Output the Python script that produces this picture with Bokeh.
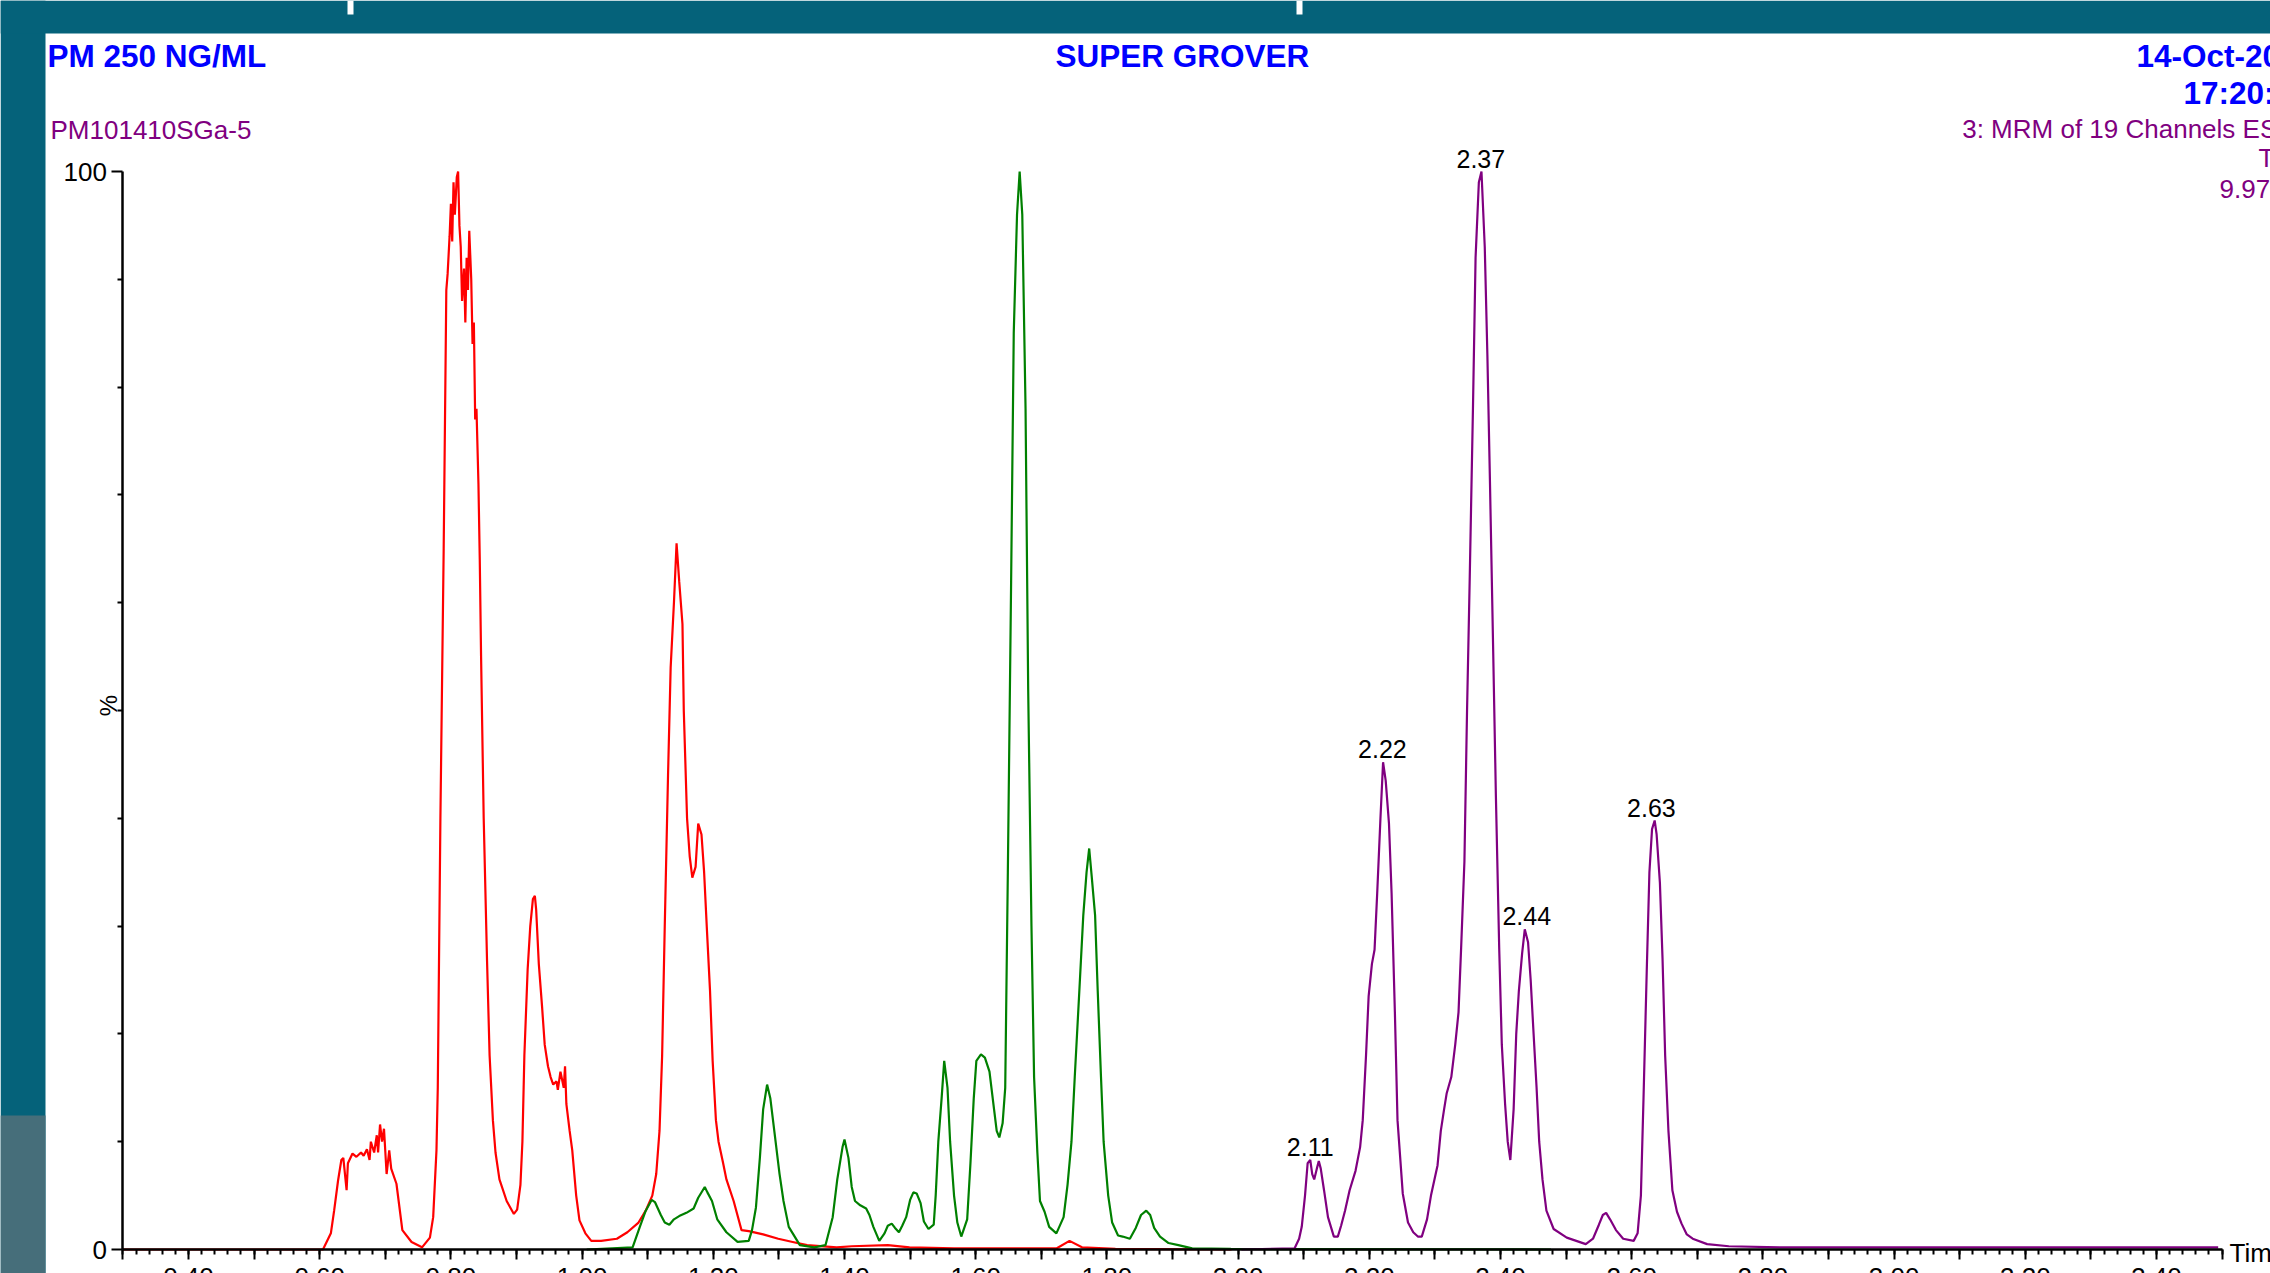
import numpy as np
from bokeh.plotting import figure
from bokeh.models import Range1d, FixedTicker, LinearAxis, BoxAnnotation, PrintfTickFormatter
from bokeh.core.properties import value
from bokeh.embed import file_html
from bokeh.resources import INLINE

# ---------------- data (time in min, intensity in %) ----------------
red_points = [
    (0.300, 0.0), (0.605, 0.0), (0.617, 1.5), (0.622, 3.6), (0.628, 6.4), (0.633, 8.3),
    (0.636, 8.5), (0.641, 5.5), (0.643, 8.0), (0.650, 8.9), (0.656, 8.6), (0.663, 9.0),
    (0.667, 8.7), (0.672, 9.3), (0.676, 8.3), (0.678, 10.0), (0.683, 9.0), (0.687, 10.6),
    (0.689, 9.0), (0.692, 11.6), (0.695, 10.0), (0.698, 11.2), (0.702, 7.0), (0.706, 9.2),
    (0.709, 7.5), (0.717, 6.1), (0.726, 1.8), (0.740, 0.7), (0.756, 0.2), (0.768, 1.1),
    (0.773, 3.0), (0.778, 9.2), (0.780, 15.0), (0.784, 40.0), (0.789, 65.0), (0.793, 89.0),
    (0.795, 90.5), (0.798, 94.0), (0.800, 97.0), (0.802, 93.5), (0.804, 99.0), (0.806, 96.0),
    (0.809, 99.5), (0.811, 100.0), (0.813, 95.0), (0.815, 93.0), (0.817, 88.0), (0.820, 91.0),
    (0.822, 86.0), (0.824, 92.0), (0.826, 89.0), (0.828, 94.5), (0.831, 90.0), (0.833, 84.0),
    (0.835, 86.0), (0.837, 77.0), (0.839, 78.0), (0.842, 71.0), (0.844, 64.0), (0.846, 55.0),
    (0.850, 40.0), (0.855, 27.0), (0.859, 18.0), (0.864, 12.0), (0.868, 9.0), (0.874, 6.5),
    (0.885, 4.5), (0.896, 3.3), (0.901, 3.7), (0.906, 6.0), (0.909, 10.0), (0.912, 18.0),
    (0.917, 26.0), (0.921, 30.0), (0.925, 32.5), (0.928, 32.8), (0.930, 31.5), (0.934, 26.5),
    (0.939, 22.5), (0.943, 19.0), (0.948, 17.0), (0.952, 16.0), (0.956, 15.3), (0.961, 15.6),
    (0.963, 14.8), (0.967, 16.5), (0.972, 15.0), (0.974, 17.0), (0.976, 13.5), (0.981, 11.0),
    (0.985, 9.2), (0.991, 5.0), (0.996, 2.7), (1.005, 1.5), (1.014, 0.8), (1.029, 0.8),
    (1.053, 1.0), (1.069, 1.6), (1.086, 2.5), (1.097, 3.6), (1.107, 5.0), (1.113, 7.0),
    (1.118, 11.0), (1.122, 18.0), (1.126, 30.0), (1.131, 44.0), (1.135, 54.0), (1.140, 60.0),
    (1.144, 65.5), (1.148, 62.0), (1.153, 58.0), (1.155, 50.0), (1.160, 40.0), (1.164, 36.5),
    (1.168, 34.5), (1.173, 35.5), (1.177, 39.5), (1.182, 38.5), (1.186, 35.0), (1.190, 30.0),
    (1.195, 24.0), (1.199, 17.5), (1.204, 12.0), (1.208, 10.0), (1.215, 8.0), (1.220, 6.5),
    (1.231, 4.5), (1.243, 1.8), (1.254, 1.7), (1.276, 1.4), (1.299, 1.0), (1.321, 0.7),
    (1.343, 0.4), (1.388, 0.2), (1.411, 0.3), (1.466, 0.4), (1.499, 0.2), (1.567, 0.1),
    (1.723, 0.1), (1.743, 0.8), (1.762, 0.2), (1.813, 0.05), (1.990, 0.0),
]

green_points = [
    (1.007, 0.0), (1.077, 0.2), (1.088, 2.1), (1.097, 3.6), (1.106, 4.6), (1.111, 4.4),
    (1.120, 3.2), (1.126, 2.5), (1.133, 2.3), (1.140, 2.8), (1.148, 3.1), (1.159, 3.4),
    (1.170, 3.8), (1.177, 4.8), (1.187, 5.8), (1.191, 5.3), (1.198, 4.5), (1.206, 2.8),
    (1.220, 1.6), (1.237, 0.7), (1.254, 0.8), (1.259, 1.8), (1.265, 3.9), (1.271, 8.5),
    (1.276, 13.0), (1.282, 15.3), (1.287, 14.0), (1.294, 10.5), (1.301, 7.0), (1.307, 4.5),
    (1.315, 2.1), (1.332, 0.4), (1.354, 0.2), (1.371, 0.4), (1.382, 3.0), (1.389, 6.5),
    (1.397, 9.5), (1.400, 10.2), (1.406, 8.5), (1.411, 5.8), (1.416, 4.5), (1.424, 4.1),
    (1.433, 3.8), (1.438, 3.2), (1.444, 2.1), (1.453, 0.8), (1.461, 1.5), (1.466, 2.2),
    (1.472, 2.4), (1.477, 2.0), (1.483, 1.6), (1.488, 2.2), (1.494, 3.0), (1.500, 4.6),
    (1.505, 5.3), (1.510, 5.2), (1.516, 4.3), (1.521, 2.6), (1.528, 1.9), (1.536, 2.3),
    (1.539, 5.0), (1.543, 10.0), (1.548, 14.0), (1.552, 17.5), (1.557, 15.0), (1.561, 10.0),
    (1.567, 5.0), (1.572, 2.5), (1.578, 1.2), (1.587, 2.8), (1.592, 8.0), (1.597, 14.0),
    (1.601, 17.5), (1.608, 18.1), (1.614, 17.8), (1.621, 16.5), (1.628, 13.0), (1.632, 11.0),
    (1.636, 10.4), (1.641, 11.7), (1.645, 15.0), (1.649, 35.0), (1.654, 62.0), (1.658, 85.0),
    (1.663, 96.0), (1.667, 100.0), (1.671, 96.0), (1.676, 78.0), (1.680, 52.0), (1.685, 30.0),
    (1.689, 16.0), (1.694, 9.0), (1.698, 4.5), (1.705, 3.5), (1.712, 2.1), (1.723, 1.5),
    (1.734, 3.0), (1.740, 6.0), (1.746, 10.0), (1.751, 16.0), (1.758, 24.0), (1.764, 31.0),
    (1.769, 35.0), (1.773, 37.2), (1.777, 34.5), (1.782, 31.0), (1.786, 24.0), (1.791, 16.0),
    (1.795, 10.0), (1.802, 5.0), (1.808, 2.5), (1.817, 1.3), (1.824, 1.2), (1.835, 1.0),
    (1.844, 2.0), (1.852, 3.2), (1.860, 3.6), (1.866, 3.2), (1.872, 2.0), (1.881, 1.2),
    (1.894, 0.6), (1.909, 0.4), (1.930, 0.1), (1.989, 0.05), (2.477, 0.0),
]

purple_points = [
    (2.005, 0.0), (2.086, 0.1), (2.093, 1.0), (2.097, 2.1), (2.102, 5.0), (2.106, 8.0),
    (2.110, 8.3), (2.113, 7.0), (2.116, 6.5), (2.120, 7.5), (2.123, 8.2), (2.126, 7.5),
    (2.131, 5.5), (2.137, 3.0), (2.146, 1.2), (2.152, 1.2), (2.157, 2.2), (2.163, 3.6),
    (2.170, 5.5), (2.179, 7.3), (2.186, 9.5), (2.190, 12.0), (2.195, 18.0), (2.199, 23.5),
    (2.204, 26.5), (2.208, 27.8), (2.212, 33.0), (2.217, 40.0), (2.221, 45.2), (2.225, 43.5),
    (2.230, 39.5), (2.234, 33.0), (2.239, 22.0), (2.243, 12.0), (2.251, 5.2), (2.259, 2.5),
    (2.267, 1.6), (2.274, 1.2), (2.280, 1.2), (2.288, 2.8), (2.294, 5.0), (2.304, 7.8),
    (2.309, 11.0), (2.314, 13.0), (2.318, 14.5), (2.325, 16.0), (2.331, 19.0), (2.336, 22.0),
    (2.340, 28.0), (2.345, 36.0), (2.349, 50.0), (2.353, 62.0), (2.358, 78.0), (2.362, 92.0),
    (2.367, 99.0), (2.371, 100.0), (2.376, 93.0), (2.380, 83.0), (2.384, 71.0), (2.389, 55.0),
    (2.393, 42.0), (2.398, 28.0), (2.402, 19.0), (2.407, 13.5), (2.411, 10.0), (2.415, 8.3),
    (2.420, 13.0), (2.424, 20.0), (2.428, 24.0), (2.433, 27.5), (2.437, 29.7), (2.442, 28.5),
    (2.446, 25.0), (2.450, 20.5), (2.455, 15.0), (2.459, 10.0), (2.464, 6.5), (2.470, 3.6),
    (2.481, 1.9), (2.501, 1.1), (2.530, 0.5), (2.541, 1.0), (2.550, 2.3), (2.556, 3.2),
    (2.561, 3.4), (2.567, 2.8), (2.576, 1.8), (2.587, 1.0), (2.603, 0.8), (2.609, 1.5),
    (2.614, 5.0), (2.618, 14.0), (2.623, 26.0), (2.627, 35.0), (2.631, 39.0), (2.635, 39.8),
    (2.638, 38.5), (2.643, 34.0), (2.647, 27.0), (2.651, 18.0), (2.656, 11.0), (2.662, 5.5),
    (2.669, 3.5), (2.676, 2.4), (2.684, 1.4), (2.693, 1.0), (2.715, 0.5), (2.748, 0.3),
    (2.828, 0.2), (3.494, 0.2),
]

red_time = [a for a, b in red_points]
red_pct = [b for a, b in red_points]
green_time = [a for a, b in green_points]
green_pct = [b for a, b in green_points]
purple_time = [a for a, b in purple_points]
purple_pct = [b for a, b in purple_points]

peak_labels = ["2.11", "2.22", "2.37", "2.44", "2.63"]
peak_heights = [8.3, 45.2, 100.0, 29.7, 39.8]

x_major_ticks = [0.3, 0.4, 0.5, 0.6, 0.7, 0.8, 0.9, 1.0, 1.1, 1.2, 1.3, 1.4, 1.5, 1.6, 1.7,
                 1.8, 1.9, 2.0, 2.1, 2.2, 2.3, 2.4, 2.5, 2.6, 2.7, 2.8, 2.9, 3.0, 3.1, 3.2,
                 3.3, 3.4, 3.5]
x_label_values = [0.4, 0.6, 0.8, 1.0, 1.2, 1.4, 1.6, 1.8, 2.0, 2.2, 2.4, 2.6, 2.8, 3.0, 3.2, 3.4]
x_tick_labels = ["0.40", "0.60", "0.80", "1.00", "1.20", "1.40", "1.60", "1.80", "2.00",
                 "2.20", "2.40", "2.60", "2.80", "3.00", "3.20", "3.40"]
y_major_ticks = [0, 100]
y_minor_ticks = [10, 20, 30, 40, 50, 60, 70, 80, 90]

header_left = "PM 250 NG/ML"
header_center = "SUPER GROVER"
header_date = "14-Oct-20"
header_time = "17:20:"
sample_name = "PM101410SGa-5"
channel_text = "3: MRM of 19 Channels ES"
channel_line2 = "T"
channel_line3 = "9.97"

# ---------------- layout helpers (slide pixel <-> data) ----------------
W, H = 2270, 1273
X_REF_PX, X_REF_T, PX_PER_MIN = 188.0, 0.40, 656.0
Y_REF_PX, PX_PER_PCT = 1249.0, 10.78


def tx(px):
    return X_REF_T + (px - X_REF_PX) / PX_PER_MIN


def vy(py):
    return (Y_REF_PX - py) / PX_PER_PCT


TEAL = "#05627A"
GREY_TEAL = "#466E7A"
BLUE = "#0000FF"
PURPLE = "#800080"
FONT = value("Liberation Sans")

p = figure(width=W, height=H, output_backend="svg", toolbar_location=None,
           x_range=Range1d(tx(0), tx(W)),
           y_range=Range1d(vy(H), vy(0)),
           x_axis_location=None, y_axis_location=None,
           min_border=0, min_border_left=0, min_border_right=0,
           min_border_top=0, min_border_bottom=0)
p.outline_line_color = None
p.background_fill_color = "white"
p.border_fill_color = "white"
p.grid.visible = False

# slide frame decoration
p.add_layout(BoxAnnotation(right=tx(45), fill_color=TEAL, fill_alpha=1.0, line_color=None))
p.add_layout(BoxAnnotation(bottom=vy(33), fill_color=TEAL, fill_alpha=1.0, line_color=None))
p.add_layout(BoxAnnotation(right=tx(45), top=vy(1115), fill_color=GREY_TEAL, fill_alpha=1.0,
                           line_color=None))
p.add_layout(BoxAnnotation(left=tx(347), right=tx(353), bottom=vy(14), fill_color="white",
                           fill_alpha=1.0, line_color=None))
p.add_layout(BoxAnnotation(left=tx(1296), right=tx(1302), bottom=vy(14), fill_color="white",
                           fill_alpha=1.0, line_color=None))

# traces
p.line(red_time, red_pct, line_color="#FF0000", line_width=2.2)
p.line(green_time, green_pct, line_color="#008000", line_width=2.2)
p.line(purple_time, purple_pct, line_color=PURPLE, line_width=2.2)

# axes
overrides = {t: "" for t in x_major_ticks}
overrides.update(dict(zip(x_label_values, x_tick_labels)))
xaxis = LinearAxis(fixed_location=0.0, bounds=(0.30, 3.50),
                   ticker=FixedTicker(ticks=x_major_ticks,
                                      minor_ticks=[round(0.3 + 0.02 * i, 2) for i in range(161)]),
                   formatter=PrintfTickFormatter(format="%.2f"),
                   major_label_overrides=overrides)
yaxis = LinearAxis(fixed_location=0.30, bounds=(0, 100),
                   ticker=FixedTicker(ticks=y_major_ticks, minor_ticks=y_minor_ticks))
for ax, mout in ((xaxis, 10), (yaxis, 11)):
    ax.axis_line_color = "black"
    ax.axis_line_width = 2.5
    ax.major_tick_line_color = "black"
    ax.major_tick_line_width = 2
    ax.minor_tick_line_color = "black"
    ax.minor_tick_line_width = 2
    ax.major_tick_in = 0
    ax.minor_tick_in = 0
    ax.major_tick_out = mout
    ax.minor_tick_out = 5
    ax.major_label_text_font = "Liberation Sans"
    ax.major_label_text_font_size = "26px"
    ax.major_label_text_color = "black"
xaxis.major_label_standoff = 8
yaxis.major_label_standoff = 5
p.add_layout(xaxis, "below")
p.add_layout(yaxis, "left")

# axis titles
p.text(x=[tx(108)], y=[vy(705)], text=["%"], angle=np.pi / 2, text_font=FONT,
       text_font_size=value("24px"), text_color="black", text_align="center",
       text_baseline="middle")
p.text(x=[tx(2229)], y=[vy(1252)], text=["Time"], text_font=FONT,
       text_font_size=value("26px"), text_color="black", text_align="left",
       text_baseline="alphabetic")

# peak labels
p.text(x=[float(s) for s in peak_labels], y=[h + 1.2 for h in peak_heights], text=peak_labels,
       text_font=FONT, text_font_size=value("25px"), text_color="black",
       text_align="center", text_baseline="alphabetic")

# header texts
p.text(x=[tx(47), tx(1055), tx(2136)], y=[vy(55.5), vy(55.5), vy(55.5)],
       text=[header_left, header_center, header_date], text_font=FONT,
       text_font_size=value("31.5px"), text_font_style="bold", text_color=BLUE,
       text_align="left", text_baseline="alphabetic")
p.text(x=[tx(2183)], y=[vy(92)], text=[header_time], text_font=FONT,
       text_font_size=value("31.5px"), text_font_style="bold", text_color=BLUE,
       text_align="left", text_baseline="alphabetic")
p.text(x=[tx(50), tx(1961.7), tx(2258), tx(2219)],
       y=[vy(129), vy(128.5), vy(157), vy(188)],
       text=[sample_name, channel_text, channel_line2, channel_line3], text_font=FONT,
       text_font_size=value("26px"), text_color=PURPLE, text_align="left",
       text_baseline="alphabetic")

open("out.html", "w").write(file_html(p, INLINE, title="PM 250 NG/ML"))
